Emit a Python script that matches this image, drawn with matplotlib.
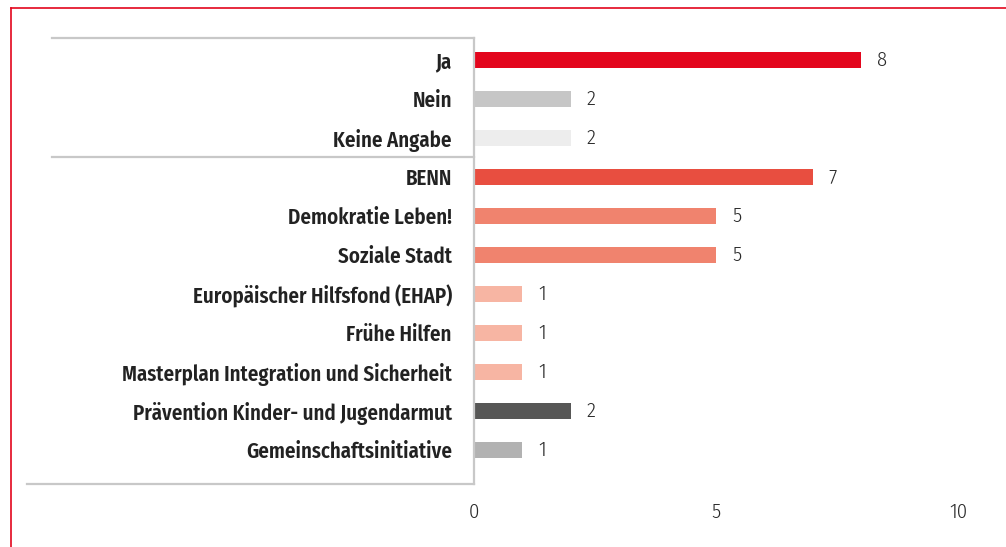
import matplotlib.pyplot as plt
from matplotlib.lines import Line2D
import matplotlib.transforms as mtransforms

# data
categories = ['Ja', 'Nein', 'Keine Angabe', 'BENN', 'Demokratie Leben!',
              'Soziale Stadt', 'Europäischer Hilfsfond (EHAP)', 'Frühe Hilfen',
              'Masterplan Integration und Sicherheit',
              'Prävention Kinder- und Jugendarmut', 'Gemeinschaftsinitiative']
values = [8, 2, 2, 7, 5, 5, 1, 1, 1, 2, 1]
colors = ['#E3061D', '#C6C6C6', '#EDEDED', '#E84E40', '#F0836E', '#F0836E',
          '#F7B5A3', '#F7B5A3', '#F7B5A3', '#575756', '#B2B2B2']
xticks = [0, 5, 10]

W, H = 1006, 547
fig = plt.figure(figsize=(W / 100, H / 100), dpi=100)

# axes placed by pixel positions of the reference
left, right, top, bottom = 474, 958, 38, 484
ax = fig.add_axes([left / W, 1 - bottom / H, (right - left) / W, (bottom - top) / H])

y = list(range(len(categories)))
ax.barh(y, values, height=0.42, color=colors)
ax.set_xlim(0, 10)
ax.set_ylim(10 + 34 / 39, -22 / 39)

label_font = ['Fira Sans Condensed', 'DejaVu Sans']
ax.set_yticks(y)
ax.set_yticklabels(categories, fontsize=15, fontweight=600, family=label_font,
                   color='#222222')
ax.tick_params(axis='y', length=0, pad=16)

ax.set_xticks(xticks)
ax.set_xticklabels([str(t) for t in xticks], fontsize=15, color='#2a2a2a',
                   family=label_font, fontweight=300)
ax.tick_params(axis='x', length=0, pad=13)

for side in ['top', 'right', 'bottom']:
    ax.spines[side].set_visible(False)
ax.spines['left'].set_color('#C8C8C8')
ax.spines['left'].set_linewidth(1.6)

for yi, v in zip(y, values):
    ax.text(v + 0.33, yi, str(v), va='center', ha='left', fontsize=15,
            color='#2a2a2a', family=label_font, fontweight=300)

# separator lines on the label side
trans = mtransforms.blended_transform_factory(ax.transAxes, ax.transData)
ylo, yhi = ax.get_ylim()
for yy, x0 in [(yhi, -0.872), (2.5, -0.872), (ylo, -0.924)]:
    ax.add_line(Line2D([x0, 0], [yy, yy], transform=trans, color='#C8C8C8',
                       linewidth=1.6, clip_on=False))

# red frame (top and left edges)
fig.add_artist(Line2D([11 / W, 1], [1 - 8 / H, 1 - 8 / H], transform=fig.transFigure,
                      color='#E3061D', linewidth=1.2))
fig.add_artist(Line2D([11 / W, 11 / W], [0, 1 - 8 / H], transform=fig.transFigure,
                      color='#E3061D', linewidth=1.2))

fig.savefig('out.png', dpi=100)
